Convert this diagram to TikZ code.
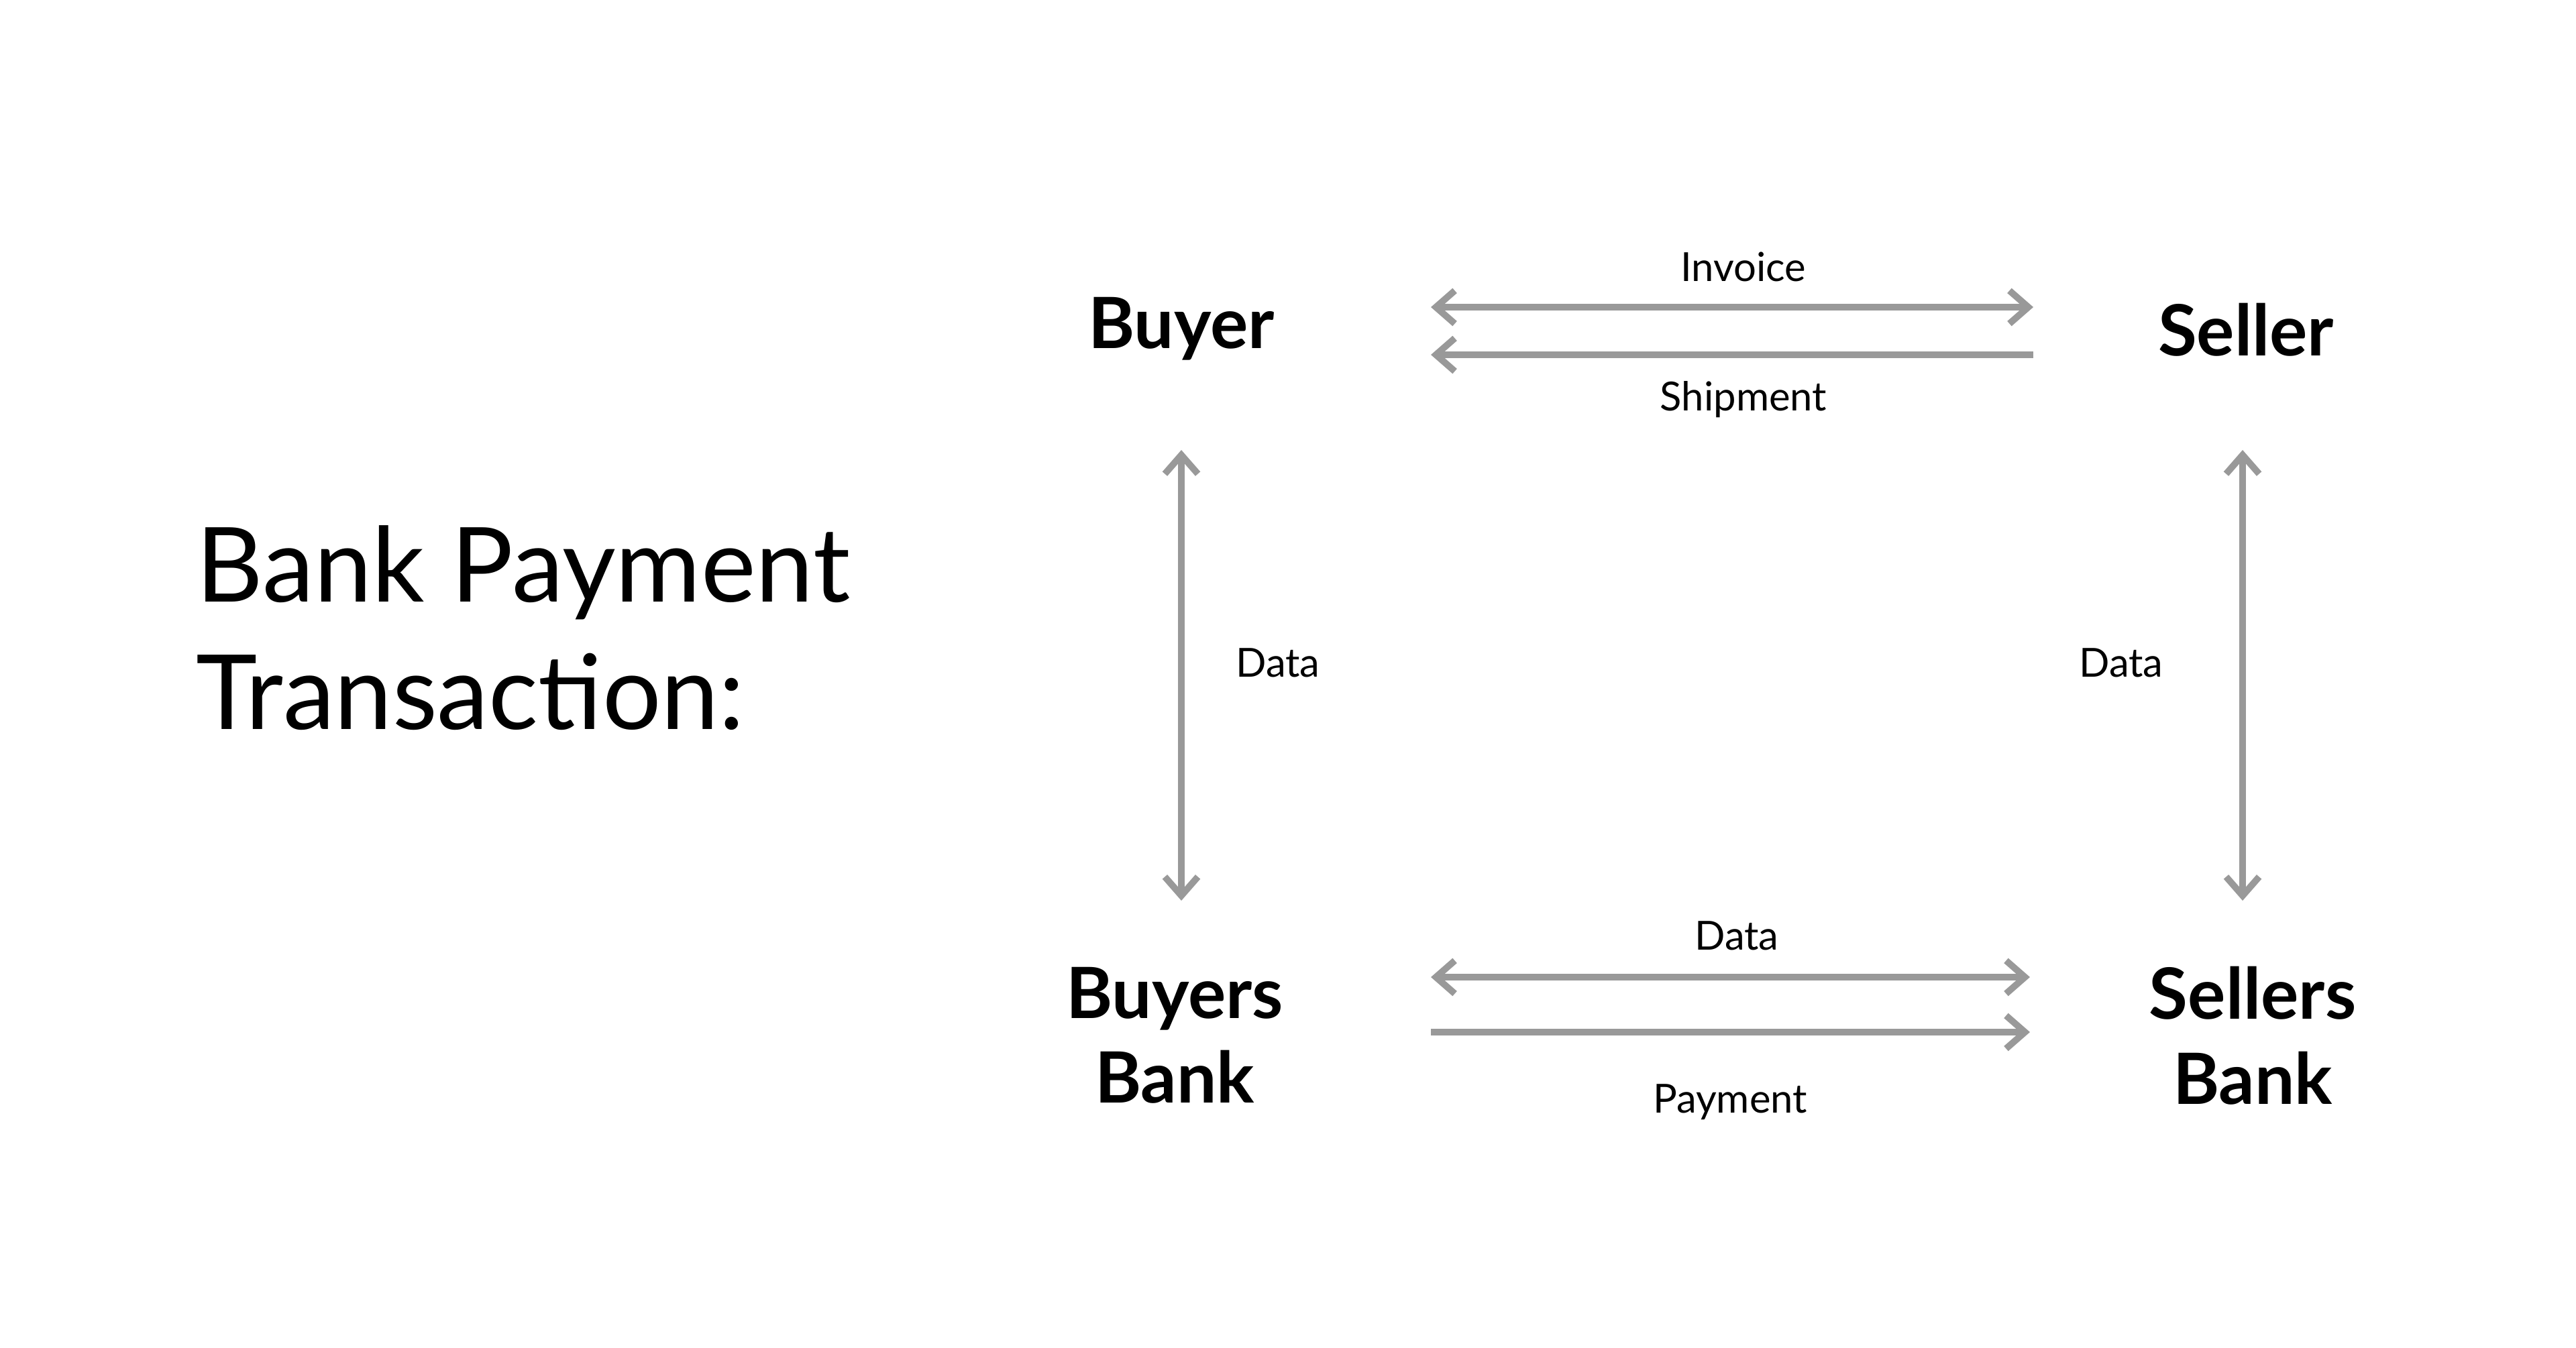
\documentclass[tikz,border=0pt]{standalone}
\usepackage{fontspec}
\setmainfont{Lato}
\usepackage{tikz}
\usetikzlibrary{arrows.meta, positioning}

\begin{document}
\begin{tikzpicture}[
    party/.style={font=\fontsize{30}{36}\selectfont\bfseries, align=center},
    lbl/.style={font=\fontsize{17}{20}\selectfont},
    link/.style={draw=black!40, line width=2.8pt, arrows={-Straight Barb[length=8pt, width=14pt]}},
    twoway/.style={link, arrows={Straight Barb[length=8pt, width=14pt]-Straight Barb[length=8pt, width=14pt]}}
]
    \useasboundingbox (0,0) rectangle (38.4,20.1);
    % Title
    \node[anchor=west, align=left, font=\fontsize{44}{54}\selectfont] (title) at (2.8,10.74) {Bank Payment\\Transaction:};

    % Parties
    \node[party] (buyer) at (17.61,15.20) {Buyer};
    \node[party] (seller) at (33.48,15.18) {Seller};
    \node[party] (bbank) at (17.51,4.66) {Buyers\\Bank};
    \node[party] (sbank) at (33.58,4.66) {Sellers\\Bank};

    % Arrow ends
    \coordinate (invL) at (21.33,15.52);
    \coordinate (invR) at (30.31,15.52);
    \coordinate (shpL) at (21.33,14.81);
    \coordinate (shpR) at (30.31,14.81);
    \coordinate (datL) at (21.33,5.53);
    \coordinate (datR) at (30.26,5.53);
    \coordinate (payL) at (21.33,4.71);
    \coordinate (payR) at (30.26,4.71);
    \coordinate (buyerD) at (17.61,13.39);
    \coordinate (bbankU) at (17.61,6.67);
    \coordinate (sellerD) at (33.43,13.39);
    \coordinate (sbankU) at (33.43,6.67);

    % Arrows
    \draw[twoway] (invL) -- (invR);
    \draw[link] (shpR) -- (shpL);
    \draw[twoway] (datL) -- (datR);
    \draw[link] (payL) -- (payR);
    \draw[twoway] (buyerD) -- (bbankU);
    \draw[twoway] (sellerD) -- (sbankU);

    % Labels
    \node[lbl] at (25.99,16.12) {Invoice};
    \node[lbl] at (25.99,14.14) {Shipment};
    \node[lbl] at (19.05,10.22) {Data};
    \node[lbl] at (31.62,10.22) {Data};
    \node[lbl] at (25.89,6.15) {Data};
    \node[lbl] at (25.79,3.67) {Payment};
\end{tikzpicture}
\end{document}
